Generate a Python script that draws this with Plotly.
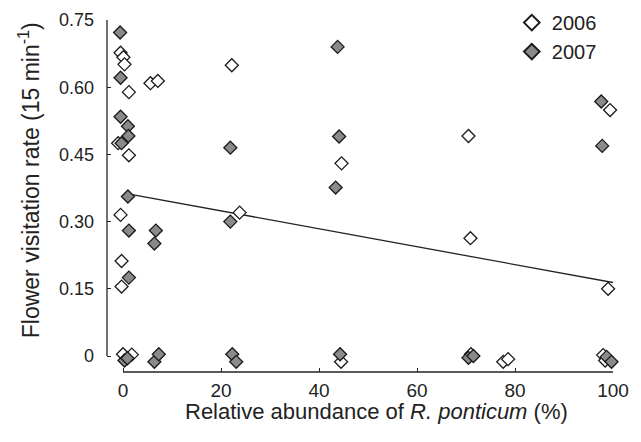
import plotly.graph_objects as go

# 2006 observations (relative abundance %, visitation rate)
x2006 = [-0.5, 0.07, 0.3, 5.6, 7.1, 1.2, 22.2, -1.0, 1.2, -0.5, 23.8, -0.3, -0.3,
         0.0, 1.8, 44.5, 44.6, 70.5, 99.4, 70.9, 99.0, 71.0, 77.6, 78.6, 98.0, 98.4]
y2006 = [0.677, 0.667, 0.651, 0.609, 0.614, 0.589, 0.649, 0.475, 0.448, 0.315, 0.320, 0.212, 0.155,
         0.004, 0.003, -0.013, 0.430, 0.491, 0.549, 0.263, 0.150, 0.004, -0.013, -0.007, 0.002, -0.010]

# 2007 observations
x2007 = [-0.6, -0.5, -0.5, 1.0, 1.1, -0.3, 21.9, 1.0, 1.2, 6.7, 6.4, 21.9, 1.2,
         0.3, 0.9, 6.4, 7.3, 22.3, 23.1, 43.8, 44.1, 43.4, 44.3, 97.6, 97.8,
         70.5, 71.5, 98.7, 99.7]
y2007 = [0.722, 0.621, 0.534, 0.513, 0.491, 0.475, 0.465, 0.356, 0.280, 0.280, 0.251, 0.300, 0.175,
         -0.010, -0.005, -0.013, 0.004, 0.004, -0.013, 0.690, 0.490, 0.376, 0.004, 0.568, 0.469,
         -0.004, 0.000, -0.002, -0.013]

# regression line endpoints
fit_x = [1, 100]
fit_y = [0.362, 0.164]

xticks = [0, 20, 40, 60, 80, 100]
yticks = [0, 0.15, 0.30, 0.45, 0.60, 0.75]
ytick_labels = ["0", "0.15", "0.30", "0.45", "0.60", "0.75"]

FONT = "Liberation Sans, Arial, sans-serif"
INK = "#222222"

fig = go.Figure()
fig.add_trace(go.Scatter(x=fit_x, y=fit_y, mode="lines",
                         line=dict(color=INK, width=1.3), showlegend=False,
                         hoverinfo="skip"))
fig.add_trace(go.Scatter(x=x2006, y=y2006, mode="markers", name="2006",
                         marker=dict(symbol="diamond", size=10, color="white",
                                     line=dict(color="#1a1a1a", width=1.3)),
                         cliponaxis=False))
fig.add_trace(go.Scatter(x=x2007, y=y2007, mode="markers", name="2007",
                         marker=dict(symbol="diamond", size=10, color="#8a8a8a",
                                     line=dict(color="#1a1a1a", width=1.3)),
                         cliponaxis=False))

# page body has an 8px default margin, so offset left/top by 8px
fig.update_layout(
    width=641, height=442,
    margin=dict(l=99, r=36, t=12, b=78, autoexpand=False),
    paper_bgcolor="white", plot_bgcolor="white",
    font=dict(family=FONT, size=18, color=INK),
    legend=dict(x=0.800, y=1.048, xanchor="left", yanchor="top",
                bgcolor="rgba(0,0,0,0)", font=dict(size=20),
                itemsizing="constant", tracegroupgap=0),
    xaxis=dict(range=[-3.27, 100], tickvals=xticks, ticks="inside", ticklen=4,
               tickcolor=INK, tickwidth=1.2, showgrid=False, zeroline=False,
               showline=False, ticklabelstandoff=5, tickfont=dict(size=19),
               automargin=False),
    yaxis=dict(range=[-0.0357, 0.75], tickvals=yticks, ticktext=ytick_labels,
               ticks="inside", ticklen=4, tickcolor=INK, tickwidth=1.2,
               showgrid=False, zeroline=False, showline=False,
               ticklabelstandoff=12, tickfont=dict(size=18), automargin=False),
    shapes=[
        dict(type="line", xref="paper", yref="y", x0=0, x1=0, y0=0, y1=0.75,
             line=dict(color=INK, width=1.3)),
        dict(type="line", xref="x", yref="paper", x0=0, x1=100, y0=0, y1=0,
             line=dict(color=INK, width=1.3)),
    ],
    annotations=[
        dict(text="Relative abundance of <i>R. ponticum</i> (%)", xref="paper", yref="paper",
             x=0.532, y=-0.112, xanchor="center", yanchor="middle", showarrow=False,
             font=dict(size=22)),
        dict(text="Flower visitation rate (15 min<sup>-1</sup>)", xref="paper", yref="paper",
             x=-0.154, y=0.545, xanchor="center", yanchor="middle", showarrow=False,
             textangle=-90, font=dict(size=23)),
    ],
)

fig.write_html("out.html")
